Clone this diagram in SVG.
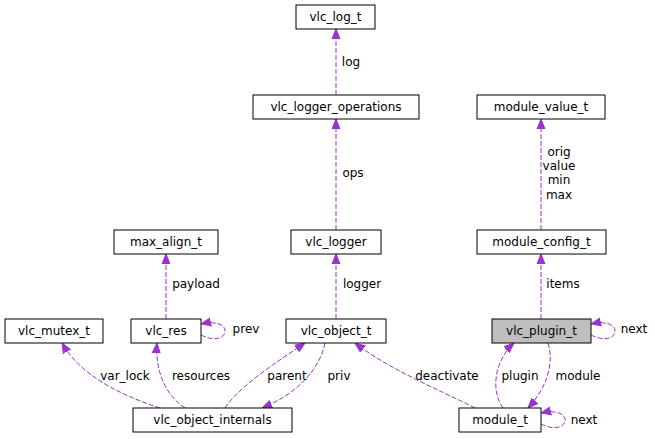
<svg xmlns="http://www.w3.org/2000/svg" width="655" height="439" viewBox="0 0 655 439">
<style>
.n rect{fill:#fff;stroke:#000;stroke-width:1}
.n text,.l{font-family:"DejaVu Sans",sans-serif;font-size:12px;text-anchor:middle;fill:#000}
#e path{fill:none;stroke:#9a32cd;stroke-width:1;stroke-dasharray:5,2}
</style>
<defs><marker id="a" viewBox="0 0 10 10" refX="10" refY="5" markerWidth="10" markerHeight="10" markerUnits="userSpaceOnUse" orient="auto"><path d="M0,1L10,5L0,9z" fill="#9a32cd" stroke="#9a32cd"/></marker></defs>
<rect width="655" height="439" fill="#fff"/>
<g id="e">
<path d="M336,95V29" marker-end="url(#a)"/>
<path d="M336,230V119" marker-end="url(#a)"/>
<path d="M541,230V119" marker-end="url(#a)"/>
<path d="M166,319V254" marker-end="url(#a)"/>
<path d="M336,319V254" marker-end="url(#a)"/>
<path d="M541,319V254" marker-end="url(#a)"/>
<path d="M201,335C215,342 225,338 225,331C225,324 215,321 201,324" marker-end="url(#a)"/>
<path d="M591,335C605,342 615,338 615,331C615,324 605,321 591,324" marker-end="url(#a)"/>
<path d="M541,424C555,431 565,427 565,420C565,413 555,410 541,413" marker-end="url(#a)"/>
<path d="M160,408C120,395 80,375 62,343" marker-end="url(#a)"/>
<path d="M185,408C165,395 155,370 157,343" marker-end="url(#a)"/>
<path d="M225,408C240,385 280,360 305,343" marker-end="url(#a)"/>
<path d="M325,343C320,370 295,395 262,408" marker-end="url(#a)"/>
<path d="M475,408C440,390 390,370 355,343" marker-end="url(#a)"/>
<path d="M503,408C490,390 495,360 514,343" marker-end="url(#a)"/>
<path d="M548,343C555,365 545,390 528,408" marker-end="url(#a)"/>
</g>
<g id="labels">
<text class="l" x="351" y="66">log</text>
<text class="l" x="353" y="177">ops</text>
<text class="l" x="559" y="156">orig</text>
<text class="l" x="559" y="170">value</text>
<text class="l" x="559" y="184">min</text>
<text class="l" x="559" y="199">max</text>
<text class="l" x="196" y="288">payload</text>
<text class="l" x="362" y="288">logger</text>
<text class="l" x="563" y="288">items</text>
<text class="l" x="246" y="333">prev</text>
<text class="l" x="634" y="333">next</text>
<text class="l" x="125" y="380">var_lock</text>
<text class="l" x="201" y="380">resources</text>
<text class="l" x="287" y="380">parent</text>
<text class="l" x="339" y="380">priv</text>
<text class="l" x="447" y="380">deactivate</text>
<text class="l" x="520" y="380">plugin</text>
<text class="l" x="578" y="380">module</text>
<text class="l" x="584" y="424">next</text>
</g>
<g id="vlc_log_t" class="n"><rect x="296" y="5" width="79" height="24"/><text x="335.5" y="21">vlc_log_t</text></g>
<g id="vlc_logger_operations" class="n"><rect x="253" y="95" width="166" height="24"/><text x="336" y="111">vlc_logger_operations</text></g>
<g id="module_value_t" class="n"><rect x="477" y="95" width="128" height="24"/><text x="541" y="111">module_value_t</text></g>
<g id="max_align_t" class="n"><rect x="114" y="230" width="104" height="24"/><text x="166" y="246">max_align_t</text></g>
<g id="vlc_logger" class="n"><rect x="291" y="230" width="90" height="24"/><text x="336" y="246">vlc_logger</text></g>
<g id="module_config_t" class="n"><rect x="477" y="230" width="129" height="24"/><text x="541.5" y="246">module_config_t</text></g>
<g id="vlc_mutex_t" class="n"><rect x="5" y="319" width="98" height="24"/><text x="54" y="335">vlc_mutex_t</text></g>
<g id="vlc_res" class="n"><rect x="131" y="319" width="70" height="24"/><text x="166" y="335">vlc_res</text></g>
<g id="vlc_object_t" class="n"><rect x="286" y="319" width="100" height="24"/><text x="336" y="335">vlc_object_t</text></g>
<g id="vlc_plugin_t" class="n"><rect x="492" y="319" width="99" height="24" style="fill:#bfbfbf"/><text x="541.5" y="335">vlc_plugin_t</text></g>
<g id="vlc_object_internals" class="n"><rect x="133" y="408" width="159" height="24"/><text x="212.5" y="424">vlc_object_internals</text></g>
<g id="module_t" class="n"><rect x="459" y="408" width="82" height="24"/><text x="500" y="424">module_t</text></g>
</svg>
